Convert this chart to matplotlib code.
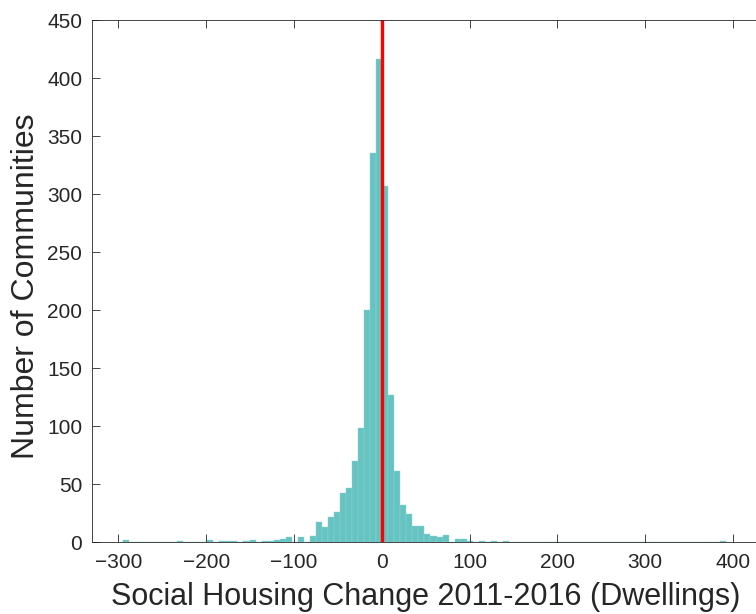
import numpy as np
import matplotlib.pyplot as plt

plt.rcParams['font.family'] = ['Liberation Sans', 'DejaVu Sans']

# histogram range (100 equal bins between min and max change)
data_min = -294.9
data_max = 392.1
n_bins = 100

# counts per bin (bin 0 = leftmost)
counts = [
    2, 0, 0, 0, 0, 0, 0, 0, 0, 1,
    0, 0, 0, 0, 2, 0, 1, 1, 1, 0,
    1, 2, 0, 1, 1, 2, 3, 4, 0, 4,
    0, 5, 17, 13, 22, 26, 42, 47, 70, 98,
    200, 335, 416, 307, 127, 61, 32, 24, 14, 14,
    7, 5, 4, 6, 0, 3, 3, 1, 0, 1,
    0, 1, 0, 1, 0, 0, 0, 0, 0, 0,
    0, 0, 0, 0, 0, 0, 0, 0, 0, 0,
    0, 0, 0, 0, 0, 0, 0, 0, 0, 0,
    0, 0, 0, 0, 0, 0, 0, 0, 0, 1,
]

x_ticks = [-300, -200, -100, 0, 100, 200, 300, 400]
y_ticks = [0, 50, 100, 150, 200, 250, 300, 350, 400, 450]

edges = np.linspace(data_min, data_max, n_bins + 1)

fig = plt.figure(figsize=(7.56, 6.14), dpi=100)
ax = fig.add_axes([0.1217, 0.1172, 0.8827, 0.8502])

ax.bar(edges[:-1], counts, width=np.diff(edges), align='edge',
       color='#65c4c1', edgecolor='#8fd3d1', linewidth=0.3)
ax.axvline(0, color='#ff0000', linewidth=2.4)

ax.set_xlim(-330, 430)
ax.set_ylim(0, 450)
ax.set_xticks(x_ticks)
ax.set_yticks(y_ticks)

for s in ax.spines.values():
    s.set_color('#262626')
    s.set_linewidth(0.6)
ax.tick_params(direction='in', length=6, width=0.6, color='#262626',
               labelsize=15, labelcolor='#262626', top=True, right=False)
ax.tick_params(axis='x', pad=8)
ax.tick_params(axis='y', pad=7)

ax.set_xlabel('Social Housing Change 2011-2016 (Dwellings)', fontsize=22,
              color='#262626')
ax.set_ylabel('Number of Communities', fontsize=23, color='#262626')
ax.xaxis.set_label_coords(0.5, -0.076)
ax.yaxis.set_label_coords(-0.077, 0.49)

fig.savefig('out.png', dpi=100)
